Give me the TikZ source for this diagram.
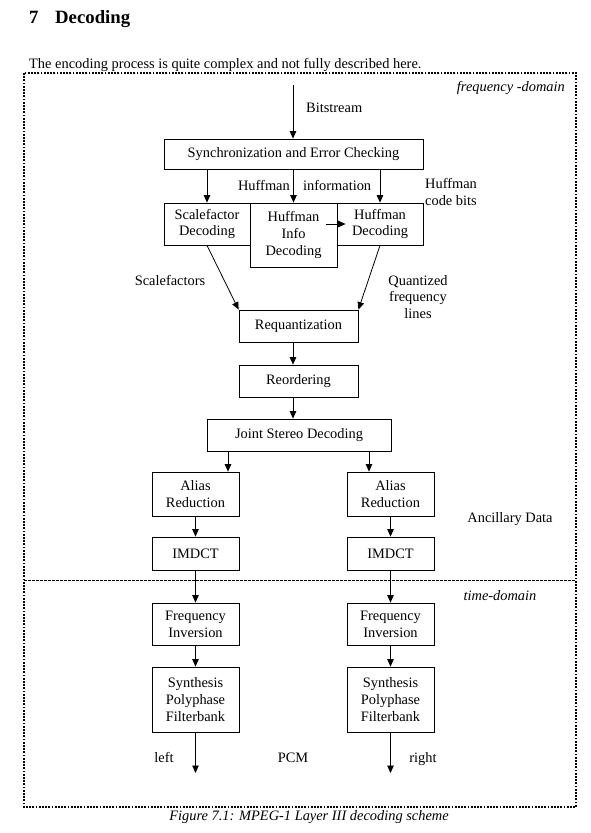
\documentclass[tikz,border=0pt]{standalone}
\usepackage{fontspec}
\setmainfont{Liberation Serif}
\usetikzlibrary{arrows.meta}
\begin{document}
\begin{tikzpicture}[x=1pt,y=-1pt,
  font=\fontsize{14.4}{16.8}\selectfont,
  box/.style={draw, line width=0.8pt, inner sep=0pt, align=center, anchor=center},
  lbl/.style={inner sep=0pt, align=center},
  arr/.style={line width=0.8pt, -{Triangle[length=7.5pt,width=6.5pt]}},
  frame/.style={line width=1.8pt, dash pattern=on 1.8pt off 1.4pt},
  sep/.style={line width=0.8pt, dash pattern=on 2.5pt off 1.5pt}]
\useasboundingbox (0,0) rectangle (591,833);
\fill[white] (0,0) rectangle (591,833);

% heading and intro
\node[lbl, anchor=base west, font=\fontsize{18.75}{22}\selectfont\bfseries] (num) at (29,23) {7};
\node[lbl, anchor=base west, font=\fontsize{18.75}{22}\selectfont\bfseries] (title) at (55,23) {Decoding};
\node[lbl, anchor=base west] (intro) at (29,68) {The encoding process is quite complex and not fully described here.};

% frame
\draw[frame] (24,73) rectangle (576,807);
\coordinate (sepL) at (24,580);
\coordinate (sepR) at (576,580);
\draw[sep] (sepL) -- (sepR);
\node[lbl, anchor=base east, font=\fontsize{14.4}{16.8}\selectfont\itshape] (fd) at (565,91) {frequency -domain};
\node[lbl, font=\fontsize{14.4}{16.8}\selectfont\itshape] (td) at (500,596) {time-domain};

% boxes
\node[box, minimum width=259pt, minimum height=30pt] (sync) at (293.5,154) {Synchronization and Error Checking};
\node[box, minimum width=86pt, minimum height=42pt] (sf) at (207,224) {Scalefactor\\Decoding};
\node[box, minimum width=87pt, minimum height=64pt] (hinfo) at (293.5,235) {Huffman\\Info\\Decoding};
\node[box, minimum width=86pt, minimum height=42pt] (hdec) at (380,224) {Huffman\\Decoding};
\node[box, minimum width=119pt, minimum height=32pt] (req) at (298.5,326) {Requantization};
\node[box, minimum width=119pt, minimum height=32pt] (reord) at (298.5,381) {Reordering};
\node[box, minimum width=184pt, minimum height=32pt] (joint) at (299,435) {Joint Stereo Decoding};

\node[box, minimum width=87pt, minimum height=44pt] (aliasL) at (195.5,494) {Alias\\Reduction};
\node[box, minimum width=87pt, minimum height=44pt] (aliasR) at (390.5,494) {Alias\\Reduction};
\node[box, minimum width=87pt, minimum height=33pt] (imdctL) at (195.5,553.5) {IMDCT};
\node[box, minimum width=87pt, minimum height=33pt] (imdctR) at (390.5,553.5) {IMDCT};
\node[box, minimum width=87pt, minimum height=42pt] (finvL) at (195.5,624) {Frequency\\Inversion};
\node[box, minimum width=87pt, minimum height=42pt] (finvR) at (390.5,624) {Frequency\\Inversion};
\node[box, minimum width=87pt, minimum height=65pt] (synL) at (195.5,699.5) {Synthesis\\Polyphase\\Filterbank};
\node[box, minimum width=87pt, minimum height=65pt] (synR) at (390.5,699.5) {Synthesis\\Polyphase\\Filterbank};

% labels
\node[lbl, anchor=base west] (bits) at (306,112) {Bitstream};
\node[lbl, anchor=base east] (hl) at (290,190) {Huffman};
\node[lbl, anchor=base west] (hr) at (303,190) {information};
\node[lbl, anchor=west, align=left] (hcb) at (425,192) {Huffman\\code bits};
\node[lbl] (sfl) at (170,280) {Scalefactors};
\node[lbl] (qfl) at (418,297) {Quantized\\frequency\\lines};
\node[lbl] (anc) at (510,519) {Ancillary Data};
\node[lbl, anchor=base] (left) at (164,762) {left};
\node[lbl, anchor=base] (pcm) at (293,762) {PCM};
\node[lbl, anchor=base] (right) at (423,762) {right};
\node[lbl, font=\fontsize{14.4}{16.8}\selectfont\itshape] (cap) at (309,817) {Figure 7.1: MPEG-1 Layer III decoding scheme};

% connectors
\coordinate (bsTop) at (293,85);
\draw[arr] (bsTop) -- (bsTop |- sync.north);
\draw[arr] (sync.south -| sf) -- (sf.north);
\draw[arr] (sync.south -| hinfo) -- (hinfo.north);
\draw[arr] (sync.south -| hdec) -- (hdec.north);
\draw[arr] ([xshift=-11pt]hdec.west) -- ([xshift=9pt]hdec.west);
\draw[arr] (sf.south) -- (req.north west);
\draw[arr] (hdec.south) -- (req.north east);
\draw[arr] (req.south -| bsTop) -- (reord.north -| bsTop);
\draw[arr] (reord.south -| bsTop) -- (joint.north -| bsTop);
\coordinate (jl) at (228,0);
\coordinate (jr) at (369,0);
\draw[arr] (joint.south -| jl) -- (aliasL.north -| jl);
\draw[arr] (joint.south -| jr) -- (aliasR.north -| jr);
\draw[arr] (aliasL.south) -- (imdctL.north);
\draw[arr] (aliasR.south) -- (imdctR.north);
\draw[arr] (imdctL.south) -- (finvL.north);
\draw[arr] (imdctR.south) -- (finvR.north);
\draw[arr] (finvL.south) -- (synL.north);
\draw[arr] (finvR.south) -- (synR.north);
\coordinate (outL) at (195.5,773);
\coordinate (outR) at (390.5,773);
\draw[arr] (synL.south) -- (outL);
\draw[arr] (synR.south) -- (outR);
\end{tikzpicture}
\end{document}
